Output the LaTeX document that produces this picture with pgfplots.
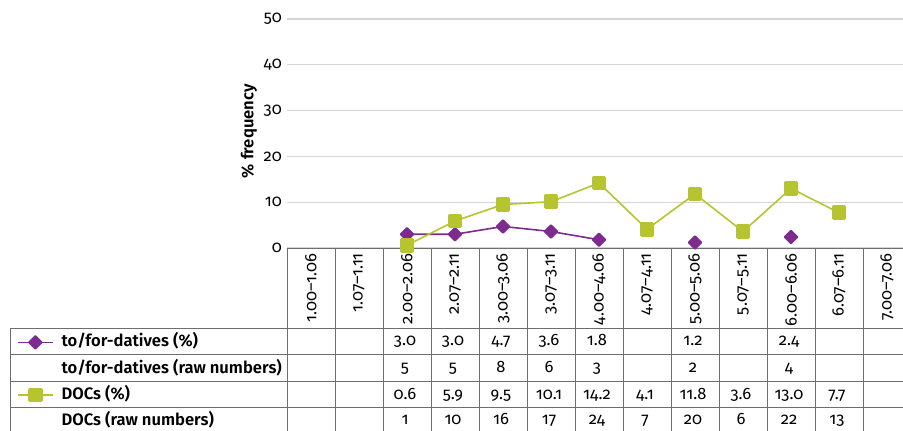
\documentclass[border=0pt]{standalone}
\usepackage{fontspec}
\setmainfont{Fira Sans}[Numbers=OldStyle, BoldFont={Fira Sans SemiBold}]
\usepackage{pgfplots}
\pgfplotsset{compat=1.18}
\usetikzlibrary{calc}

\definecolor{dative}{HTML}{7D2B8F}
\definecolor{doc}{HTML}{B5C42F}
\definecolor{gridgray}{HTML}{D4D4D4}
\definecolor{rulegray}{HTML}{6E6E6E}
\newcommand{\valfont}{\fontsize{16.5}{19}\selectfont}
\newcommand{\labfont}{\fontsize{16.6}{19}\selectfont}

\begin{document}
\begin{tikzpicture}
\begin{axis}[
  scale only axis,
  width=616pt, height=229pt,
  xmin=-0.5, xmax=12.3333,
  ymin=0, ymax=50,
  clip=false,
  axis x line*=bottom, axis y line*=left,
  y axis line style={draw=none},
  x axis line style={draw=rulegray, line width=0.8pt},
  major tick length=0pt,
  xtick={0,...,12},
  xticklabels={1.00–1.06,1.07–1.11,2.00–2.06,2.07–2.11,3.00–3.06,3.07–3.11,4.00–4.06,4.07–4.11,5.00–5.06,5.07–5.11,6.00–6.06,6.07–6.11,7.00–7.06},
  xticklabel style={rotate=90, anchor=east, inner sep=0pt, font=\valfont},
  xticklabel shift=5pt,
  ytick={0,10,...,50},
  yticklabel style={inner sep=0pt, xshift=-5pt, font=\valfont},
  /pgf/number format/assume math mode=true,
  ymajorgrids,
  grid style={gridgray, line width=1.3pt},
  ylabel={\% frequency},
  ylabel style={at={(axis description cs:-0.0617,0.51)}, anchor=center, font=\bfseries\labfont},
  legend style={at={(-0.4383,-0.375)}, anchor=north west, draw=none, fill=none,
    inner sep=0pt, outer sep=0pt, column sep=8pt, row sep=9.3pt,
    font=\bfseries\labfont, nodes={inner sep=0pt, text height=13pt, text depth=4pt}},
  legend cell align=left,
  legend image code/.code={\draw[mark repeat=2, mark phase=2] plot coordinates {(0pt,0pt) (17.5pt,0pt) (35pt,0pt)};},
  unbounded coords=jump,
]
\coordinate (O) at (axis cs:-0.5,0);

\addplot[dative, line width=1.6pt, mark=square*,
  mark options={solid, rotate=45, mark size=4.4pt, fill=dative, draw=dative, line width=2pt, line join=round}]
  coordinates {(2,3.0) (3,3.0) (4,4.7) (5,3.6) (6,1.8) (7,nan) (8,1.2) (9,nan) (10,2.4)};
\addlegendentry{to/for-datives (\%)}
\addlegendimage{empty legend}
\addlegendentry{to/for-datives (raw numbers)}

\addplot[doc, line width=1.6pt, mark=square*,
  mark options={solid, mark size=5.8pt, fill=doc, draw=doc, line width=3pt, line join=round}]
  coordinates {(2,0.6) (3,5.9) (4,9.5) (5,10.1) (6,14.2) (7,4.1) (8,11.8) (9,3.6) (10,13.0) (11,7.7)};
\addlegendentry{DOCs (\%)}
\addlegendimage{empty legend}
\addlegendentry{DOCs (raw numbers)}
\end{axis}

\begin{scope}[shift={(O)}, x=1pt, y=-1pt]
  \begin{scope}[draw=rulegray, line width=0.8pt]
    \foreach \k in {0,...,12} \draw (48*\k,0) -- (48*\k,183);
    \draw (-277,80) -- (-277,183);
    \foreach \r in {80,106,133,159} \draw (-277,\r) -- (616,\r);
  \end{scope}
  \foreach \c/\v in {2/3.0,3/3.0,4/4.7,5/3.6,6/1.8,8/1.2,10/2.4}
    \node[font=\valfont, anchor=base, inner sep=0pt] at (48*\c+22, 98) {\v};
  \foreach \c/\v in {2/5,3/5,4/8,5/6,6/3,8/2,10/4}
    \node[font=\valfont, anchor=base, inner sep=0pt] at (48*\c+22, 124.5) {\v};
  \foreach \c/\v in {2/0.6,3/5.9,4/9.5,5/10.1,6/14.2,7/4.1,8/11.8,9/3.6,10/13.0,11/7.7}
    \node[font=\valfont, anchor=base, inner sep=0pt] at (48*\c+22, 151) {\v};
  \foreach \c/\v in {2/1,3/10,4/16,5/17,6/24,7/7,8/20,9/6,10/22,11/13}
    \node[font=\valfont, anchor=base, inner sep=0pt] at (48*\c+22, 176) {\v};
\end{scope}

\pgfresetboundingbox
\path[use as bounding box] ($(O)+(-287pt,-183pt)$) rectangle ($(O)+(616pt,248pt)$);
\end{tikzpicture}
\end{document}
